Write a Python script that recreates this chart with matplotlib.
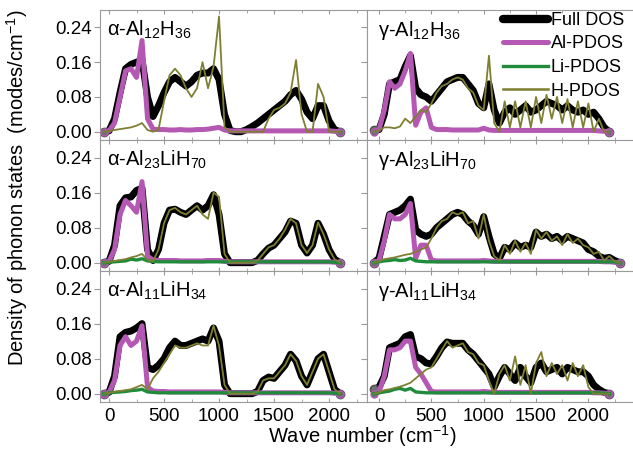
import matplotlib
matplotlib.use('Agg')
import matplotlib.pyplot as plt
from matplotlib.ticker import MultipleLocator
from matplotlib.lines import Line2D

plt.rcParams['font.family'] = ['Liberation Sans', 'DejaVu Sans']
plt.rcParams['mathtext.fontset'] = 'custom'
plt.rcParams['mathtext.rm'] = 'Liberation Sans'
plt.rcParams['mathtext.it'] = 'Liberation Sans:italic'
plt.rcParams['mathtext.default'] = 'regular'

# ---------------- data ----------------
wn_alpha = list(range(-50, 2101, 50))      # 44 points
wn_gamma = list(range(-50, 2201, 50))      # 46 points
wn_gamma_mid = list(range(-50, 2301, 50))  # 48 points

series_labels = ['Full DOS', 'Al-PDOS', 'Li-PDOS', 'H-PDOS']
panel_titles = [r'α-Al$_{12}$H$_{36}$', r'γ-Al$_{12}$H$_{36}$',
                r'α-Al$_{23}$LiH$_{70}$', r'γ-Al$_{23}$LiH$_{70}$',
                r'α-Al$_{11}$LiH$_{34}$', r'γ-Al$_{11}$LiH$_{34}$']
x_ticks = [0, 500, 1000, 1500, 2000]
y_ticks = [0.00, 0.08, 0.16, 0.24]

# top-left  alpha-Al12H36
TL_full = [0, 0.002, 0.03, 0.09, 0.145, 0.155, 0.16, 0.165, 0.08, 0.035,
           0.06, 0.09, 0.115, 0.125, 0.115, 0.105, 0.115, 0.13, 0.135, 0.135,
           0.145, 0.12, 0.04, 0.003, 0, 0, 0.005, 0.012, 0.02, 0.03,
           0.04, 0.05, 0.06, 0.07, 0.085, 0.095, 0.075, 0.045, 0.03, 0.06,
           0.06, 0.025, 0.005, 0]
TL_al = [0, 0.002, 0.02, 0.08, 0.14, 0.145, 0.125, 0.21, 0.03, 0.006,
         0.005, 0.005, 0.004, 0.004, 0.005, 0.004, 0.004, 0.005, 0.005, 0.006,
         0.008, 0.01, 0.004, 0.002, 0.002, 0.002, 0.002, 0.002, 0.002, 0.002,
         0.002, 0.002, 0.002, 0.002, 0.002, 0.002, 0.002, 0.002, 0.002, 0.002,
         0.002, 0.002, 0.001, 0]
TL_h = [0, 0.002, 0.004, 0.006, 0.008, 0.01, 0.014, 0.02, 0.004, 0,
        0.005, 0.07, 0.13, 0.145, 0.13, 0.1, 0.08, 0.1, 0.16, 0.1,
        0.15, 0.265, 0.01, 0, 0, 0, 0, 0, 0, 0,
        0.03, 0.05, 0.055, 0.065, 0.09, 0.165, 0.04, 0, 0, 0.11,
        0.08, 0, 0, 0]

# top-right gamma-Al12H36
TR_full = [0.003, 0.005, 0.04, 0.11, 0.115, 0.12, 0.15, 0.175, 0.1, 0.085,
           0.08, 0.07, 0.085, 0.1, 0.115, 0.12, 0.125, 0.125, 0.11, 0.095,
           0.065, 0.055, 0.11, 0.05, 0.02, 0.045, 0.055, 0.04, 0.05, 0.06,
           0.045, 0.05, 0.06, 0.07, 0.065, 0.06, 0.05, 0.06, 0.05, 0.045,
           0.05, 0.04, 0.045, 0.03, 0.01, 0]
TR_al = [0, 0.005, 0.05, 0.115, 0.1, 0.11, 0.14, 0.18, 0.015, 0.045,
         0.055, 0.01, 0.005, 0.005, 0.005, 0.004, 0.004, 0.004, 0.004, 0.004,
         0.004, 0.008, 0.004, 0.003, 0.003, 0.003, 0.003, 0.003, 0.003, 0.003,
         0.003, 0.003, 0.003, 0.003, 0.003, 0.003, 0.003, 0.003, 0.003, 0.003,
         0.003, 0.003, 0.003, 0.002, 0.001, 0]
TR_h = [0, 0.003, 0.01, 0.01, 0.008, 0.012, 0.03, 0.02, 0.035, 0.05,
        0.045, 0.065, 0.09, 0.105, 0.11, 0.12, 0.125, 0.12, 0.1, 0.09,
        0.06, 0.05, 0.175, 0.02, 0, 0.07, 0.01, 0.07, 0.01, 0.07,
        0.01, 0.08, 0.02, 0.085, 0.03, 0.08, 0.02, 0.075, 0.01, 0.07,
        0.01, 0.065, 0, 0.03, 0, 0]

# middle-left alpha-Al23LiH70
ML_full = [0, 0.003, 0.04, 0.13, 0.148, 0.15, 0.165, 0.17, 0.03, 0.005,
           0.03, 0.09, 0.12, 0.122, 0.115, 0.11, 0.12, 0.13, 0.12, 0.13,
           0.155, 0.11, 0.02, 0, 0, 0, 0, 0, 0.005, 0.02,
           0.033, 0.04, 0.055, 0.07, 0.095, 0.09, 0.04, 0.022, 0.04, 0.09,
           0.065, 0.03, 0.008, 0]
ML_al = [0, 0.003, 0.03, 0.11, 0.142, 0.13, 0.115, 0.185, 0.015, 0.006,
         0.005, 0.005, 0.005, 0.005, 0.004, 0.004, 0.004, 0.004, 0.004, 0.005,
         0.005, 0.005, 0.003, 0.002, 0.002, 0.002, 0.002, 0.002, 0.002, 0.002,
         0.002, 0.002, 0.002, 0.002, 0.002, 0.002, 0.002, 0.002, 0.002, 0.002,
         0.002, 0.002, 0.001, 0]
ML_li = [0, 0.001, 0.002, 0.003, 0.004, 0.008, 0.006, 0.009, 0.004, 0.003,
         0.002, 0.002, 0.002, 0.002, 0.002, 0.002, 0.002, 0.002, 0.002, 0.002,
         0.002, 0.002, 0.002, 0.002, 0.002, 0.002, 0.002, 0.002, 0.002, 0.002,
         0.002, 0.002, 0.002, 0.002, 0.002, 0.002, 0.002, 0.002, 0.002, 0.002,
         0.002, 0.002, 0.001, 0]
ML_h = [0, 0.002, 0.004, 0.006, 0.008, 0.012, 0.015, 0.02, 0.006, 0.003,
        0.03, 0.09, 0.12, 0.125, 0.115, 0.11, 0.12, 0.13, 0.11, 0.1,
        0.16, 0.15, 0.02, 0, 0, 0, 0, 0, 0.005, 0.02,
        0.035, 0.04, 0.055, 0.075, 0.1, 0.09, 0.04, 0.022, 0.04, 0.092,
        0.065, 0.03, 0.008, 0]

# middle-right gamma-Al23LiH70
MR_full = [0, 0.01, 0.06, 0.11, 0.115, 0.12, 0.13, 0.145, 0.075, 0.065,
           0.06, 0.065, 0.08, 0.09, 0.1, 0.11, 0.115, 0.11, 0.095, 0.085,
           0.065, 0.105, 0.06, 0.02, 0.01, 0.035, 0.03, 0.045, 0.035, 0.04,
           0.035, 0.07, 0.06, 0.065, 0.055, 0.06, 0.05, 0.06, 0.055, 0.05,
           0.045, 0.03, 0.025, 0.015, 0.01, 0.012, 0.005, 0]
MR_al = [0, 0.005, 0.05, 0.11, 0.1, 0.1, 0.11, 0.135, 0.01, 0.04,
         0.04, 0.006, 0.004, 0.004, 0.004, 0.004, 0.004, 0.004, 0.004, 0.004,
         0.004, 0.005, 0.004, 0.003, 0.003, 0.003, 0.003, 0.003, 0.003, 0.003,
         0.003, 0.003, 0.003, 0.003, 0.003, 0.003, 0.003, 0.003, 0.003, 0.003,
         0.003, 0.003, 0.003, 0.003, 0.002, 0.002, 0.001, 0]
MR_li = [0, 0.002, 0.004, 0.005, 0.007, 0.005, 0.006, 0.01, 0.004, 0.003,
         0.002, 0.002, 0.002, 0.002, 0.002, 0.002, 0.002, 0.002, 0.002, 0.002,
         0.002, 0.002, 0.002, 0.002, 0.002, 0.002, 0.002, 0.002, 0.002, 0.002,
         0.002, 0.002, 0.002, 0.002, 0.002, 0.002, 0.002, 0.002, 0.002, 0.002,
         0.002, 0.002, 0.002, 0.002, 0.002, 0.002, 0.002, 0]
MR_h = [0, 0.003, 0.008, 0.01, 0.012, 0.015, 0.018, 0.02, 0.025, 0.03,
        0.035, 0.055, 0.08, 0.095, 0.1, 0.115, 0.11, 0.115, 0.09, 0.095,
        0.055, 0.11, 0.05, 0.015, 0.005, 0.04, 0.02, 0.05, 0.025, 0.045,
        0.02, 0.075, 0.055, 0.07, 0.05, 0.06, 0.04, 0.065, 0.045, 0.055,
        0.04, 0.035, 0.02, 0.025, 0.005, 0.015, 0.003, 0]

# bottom-left alpha-Al11LiH34
BL_full = [0, 0.003, 0.04, 0.13, 0.14, 0.143, 0.15, 0.16, 0.06, 0.055,
           0.065, 0.08, 0.105, 0.12, 0.11, 0.11, 0.115, 0.12, 0.125, 0.12,
           0.15, 0.12, 0.02, 0, 0, 0, 0, 0, 0.005, 0.03,
           0.038, 0.035, 0.05, 0.065, 0.09, 0.075, 0.04, 0.02, 0.05, 0.08,
           0.09, 0.05, 0.01, 0]
BL_al = [0, 0.003, 0.03, 0.11, 0.13, 0.11, 0.12, 0.155, 0.015, 0.006,
         0.005, 0.005, 0.004, 0.004, 0.004, 0.004, 0.004, 0.004, 0.004, 0.004,
         0.004, 0.004, 0.003, 0.002, 0.002, 0.002, 0.002, 0.002, 0.002, 0.002,
         0.002, 0.002, 0.002, 0.002, 0.002, 0.002, 0.002, 0.002, 0.002, 0.002,
         0.002, 0.002, 0.001, 0]
BL_li = [0, 0.002, 0.003, 0.004, 0.005, 0.007, 0.008, 0.01, 0.004, 0.003,
         0.002, 0.002, 0.002, 0.002, 0.002, 0.002, 0.002, 0.002, 0.002, 0.002,
         0.002, 0.002, 0.002, 0.002, 0.002, 0.002, 0.002, 0.002, 0.002, 0.002,
         0.002, 0.002, 0.002, 0.002, 0.002, 0.002, 0.002, 0.002, 0.002, 0.002,
         0.002, 0.002, 0.001, 0]
BL_h = [0, 0.002, 0.004, 0.006, 0.008, 0.01, 0.015, 0.02, 0.01, 0.035,
        0.05, 0.07, 0.09, 0.11, 0.105, 0.105, 0.11, 0.115, 0.11, 0.11,
        0.155, 0.11, 0.02, 0, 0, 0, 0, 0, 0.005, 0.03,
        0.035, 0.035, 0.05, 0.065, 0.09, 0.075, 0.04, 0.02, 0.05, 0.08,
        0.09, 0.05, 0.01, 0]

# bottom-right gamma-Al11LiH34
BR_full = [0.01, 0.015, 0.04, 0.105, 0.11, 0.115, 0.13, 0.135, 0.085, 0.08,
           0.07, 0.068, 0.085, 0.105, 0.118, 0.115, 0.115, 0.115, 0.1, 0.09,
           0.075, 0.06, 0.045, 0.015, 0.04, 0.06, 0.045, 0.03, 0.06, 0.04,
           0.025, 0.06, 0.07, 0.05, 0.055, 0.06, 0.045, 0.06, 0.055, 0.05,
           0.05, 0.04, 0.02, 0.01, 0.003, 0]
BR_al = [0, 0.004, 0.04, 0.1, 0.1, 0.105, 0.12, 0.12, 0.06, 0.045,
         0.025, 0.005, 0.004, 0.004, 0.004, 0.004, 0.004, 0.004, 0.004, 0.004,
         0.004, 0.005, 0.004, 0.003, 0.003, 0.003, 0.003, 0.003, 0.003, 0.003,
         0.003, 0.003, 0.003, 0.003, 0.003, 0.003, 0.003, 0.003, 0.003, 0.003,
         0.003, 0.003, 0.002, 0.002, 0.001, 0]
BR_li = [0, 0.002, 0.004, 0.006, 0.01, 0.012, 0.008, 0.012, 0.004, 0.003,
         0.002, 0.002, 0.002, 0.002, 0.002, 0.002, 0.002, 0.002, 0.002, 0.002,
         0.002, 0.002, 0.002, 0.002, 0.002, 0.002, 0.002, 0.002, 0.002, 0.002,
         0.002, 0.002, 0.002, 0.002, 0.002, 0.002, 0.002, 0.002, 0.002, 0.002,
         0.002, 0.002, 0.002, 0.002, 0.001, 0]
BR_h = [0, 0.003, 0.008, 0.01, 0.013, 0.016, 0.02, 0.025, 0.035, 0.045,
        0.055, 0.06, 0.08, 0.1, 0.12, 0.105, 0.11, 0.115, 0.095, 0.09,
        0.07, 0.065, 0.03, 0, 0.045, 0.065, 0.03, 0.085, 0.02, 0.065,
        0, 0.07, 0.095, 0.04, 0.07, 0.045, 0.065, 0.03, 0.07, 0.04,
        0.065, 0.015, 0, 0, 0, 0]

panels = [
    (wn_alpha, TL_full, TL_al, None, TL_h),
    (wn_gamma, TR_full, TR_al, None, TR_h),
    (wn_alpha, ML_full, ML_al, ML_li, ML_h),
    (wn_gamma_mid, MR_full, MR_al, MR_li, MR_h),
    (wn_alpha, BL_full, BL_al, BL_li, BL_h),
    (wn_gamma, BR_full, BR_al, BR_li, BR_h),
]

# ---------------- styling / layout ----------------
W, H = 633, 449
fig = plt.figure(figsize=(W / 100, H / 100), dpi=100)

def rect(x0, y0, x1, y1):
    return [x0 / W, 1 - y1 / H, (x1 - x0) / W, (y1 - y0) / H]

col_px = [(100, 367), (367, 640)]
row_px = [(10, 140), (140, 271), (271, 402)]
xlims = [(-82, 2345), (-115, 2493)]
ylim = (-0.019, 0.28)

c_full = '#000000'
c_al = '#b458b4'
c_li = '#1f8c3b'
c_h = '#7f7f32'
spine_c = '#9a9a9a'

lw_full, lw_al, lw_li, lw_h = 5.0, 3.6, 2.4, 1.3

for idx, (wn, full, al, li, hh) in enumerate(panels):
    r, c = divmod(idx, 2)
    ax = fig.add_axes(rect(col_px[c][0], row_px[r][0], col_px[c][1], row_px[r][1]))
    ax.plot(wn, full, color=c_full, lw=lw_full, solid_capstyle='round',
            marker='o', markevery=[0, -1], ms=6, mfc='#707070', mec='#505050', zorder=2)
    ax.plot(wn, al, color=c_al, lw=lw_al, solid_capstyle='round',
            marker='o', markevery=[0, -1], ms=5, mfc='#707070', mec=c_al, zorder=3)
    if li is not None:
        ax.plot(wn, li, color=c_li, lw=lw_li, zorder=4)
    ax.plot(wn, hh, color=c_h, lw=lw_h, zorder=5)

    ax.set_xlim(*xlims[c])
    ax.set_ylim(*ylim)
    ax.set_xticks(x_ticks)
    ax.xaxis.set_minor_locator(MultipleLocator(250))
    ax.set_yticks(y_ticks)
    for s in ax.spines.values():
        s.set_color(spine_c)
        s.set_linewidth(0.8)
    if c == 1:
        ax.spines['right'].set_visible(False)
    ax.tick_params(axis='x', which='both', direction='in', top=True, bottom=True,
                   color=spine_c, length=3, labelsize=13.5, pad=4)
    ax.tick_params(axis='x', which='minor', length=2)
    ax.tick_params(axis='y', which='both', direction='out', left=True, right=False,
                   color=spine_c, length=4, labelsize=13.5, pad=2)
    if c == 0:
        ax.set_yticklabels(['%.2f' % v for v in y_ticks])
    else:
        ax.set_yticklabels([])
    if r < 2:
        ax.set_xticklabels([])
    else:
        ax.set_xticklabels([str(v) for v in x_ticks])
    ax.text(0.026 if c == 0 else 0.04, 0.93, panel_titles[idx], transform=ax.transAxes,
            ha='left', va='top', fontsize=14.5)

leg_handles = [Line2D([], [], color=c_full, lw=lw_full * 1.2, solid_capstyle='round'),
               Line2D([], [], color=c_al, lw=lw_al, solid_capstyle='round'),
               Line2D([], [], color=c_li, lw=lw_li),
               Line2D([], [], color=c_h, lw=lw_h * 1.4)]
fig.legend(leg_handles, series_labels, loc='upper left',
           bbox_to_anchor=(503 / W, 1 - 12 / H), frameon=False, fontsize=13,
           handlelength=2.5, handletextpad=0.15, labelspacing=0.36, borderpad=0,
           borderaxespad=0)

fig.text(17 / W, 1 - 188 / H, r'Density of phonon states  (modes/cm$^{-1}$)',
         rotation=90, ha='center', va='center', fontsize=14.5)
fig.text(362 / W, 1 - 436 / H, r'Wave number (cm$^{-1}$)', ha='center', va='center',
         fontsize=14.5)

fig.savefig('out.png', dpi=100)
